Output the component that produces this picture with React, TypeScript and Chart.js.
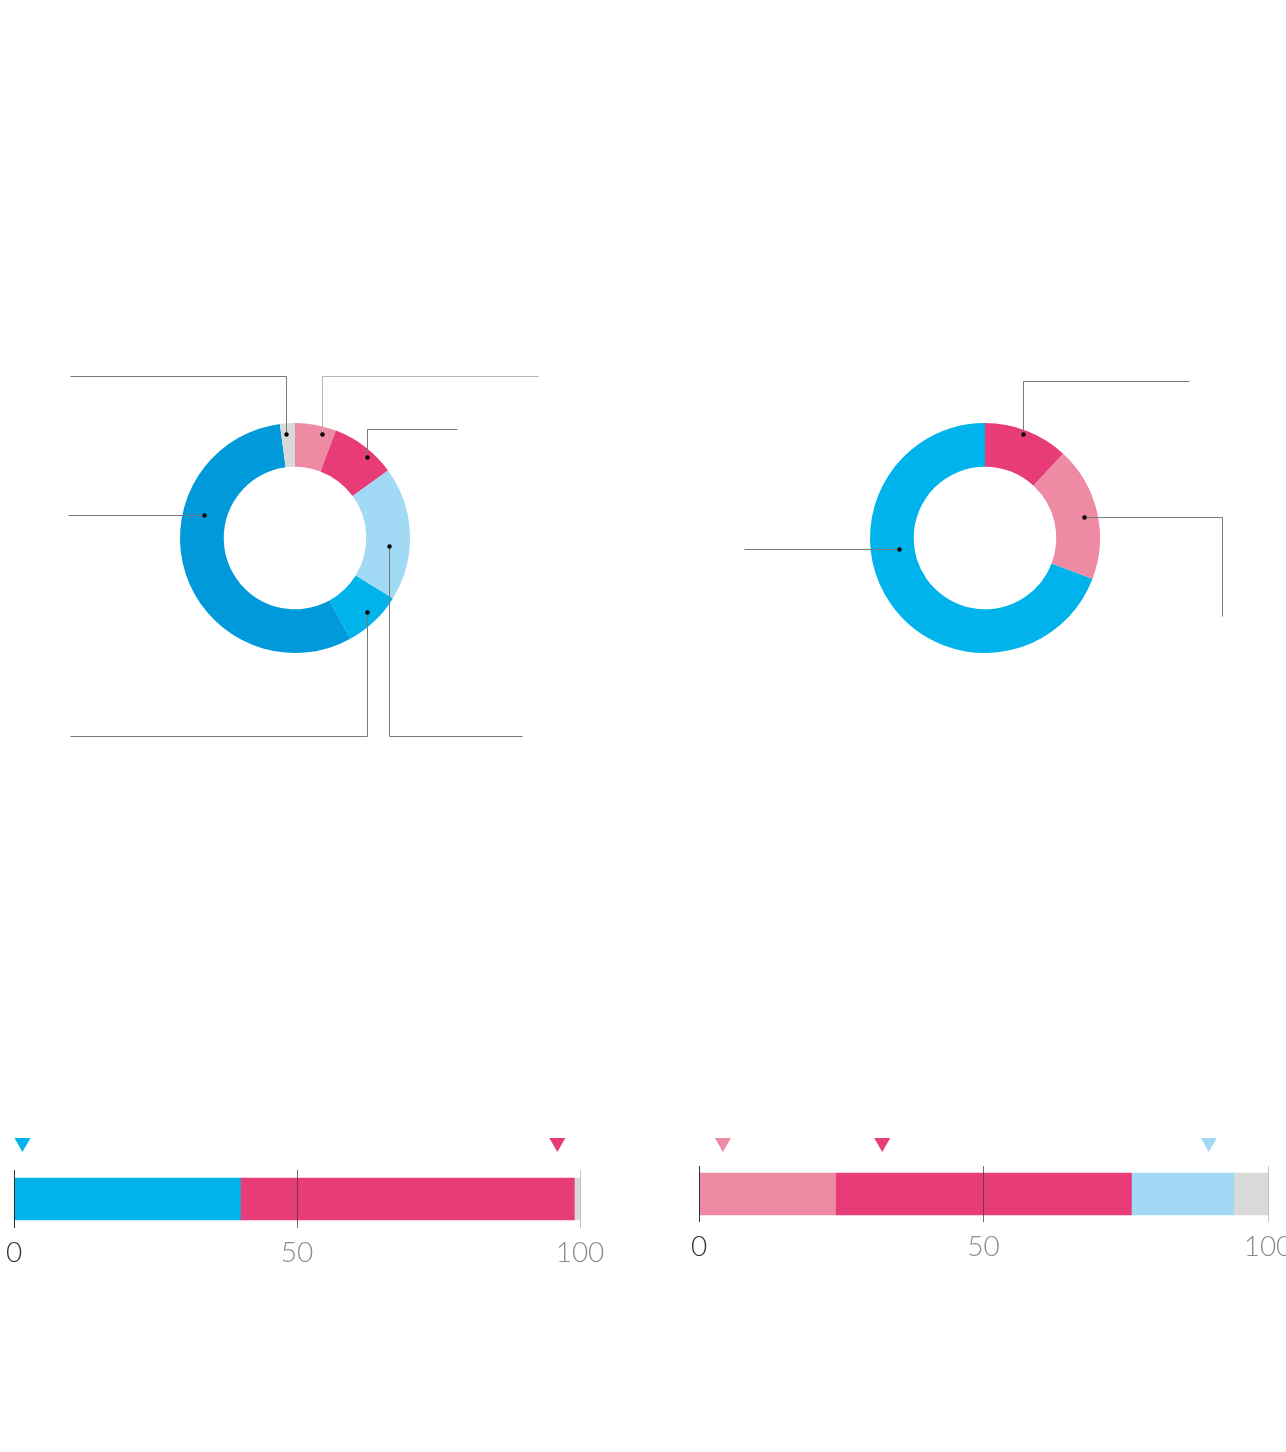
import React, { useEffect, useRef } from 'react';
import { Chart, registerables } from 'chart.js';
Chart.register(...registerables);

// ---- colours ----
const PINK_LIGHT = '#EE8AA4';
const MAGENTA = '#E83C78';
const LIGHT_BLUE = '#A2D9F5';
const CYAN = '#00B4EB';
const BLUE = '#0099D9';
const GRAY = '#D9D9D9';

// ---- data: left doughnut ----
const leftDonutCategories = ['Segment 1', 'Segment 2', 'Segment 3', 'Segment 4', 'Segment 5', 'Segment 6'];
const leftDonutValues = [5.8, 9.2, 18.8, 8.2, 55.9, 2.1];
const leftDonutColors = [PINK_LIGHT, MAGENTA, LIGHT_BLUE, CYAN, BLUE, GRAY];

// ---- data: right doughnut ----
const rightDonutCategories = ['Segment 1', 'Segment 2', 'Segment 3'];
const rightDonutValues = [11.9, 18.9, 69.2];
const rightDonutColors = [MAGENTA, PINK_LIGHT, CYAN];

// ---- data: left bar ----
const leftBarValues = [40, 59, 1];
const leftBarColors = [CYAN, MAGENTA, GRAY];
const leftBarMarkers = [1.5, 96];
const leftBarMarkerColors = [CYAN, MAGENTA];

// ---- data: right bar ----
const rightBarValues = [24, 52, 18, 6];
const rightBarColors = [PINK_LIGHT, MAGENTA, LIGHT_BLUE, GRAY];
const rightBarMarkers = [4.2, 32.2, 89.6];
const rightBarMarkerColors = [PINK_LIGHT, MAGENTA, LIGHT_BLUE];

// ---- axis ticks ----
const barTickValues = [0, 50, 100];

// ---- leader lines (annotation routing, relative to doughnut centre) ----
type Step = ['v' | 'h', number];
interface Leader { index: number; t: number; rf: number; path: Step[]; color?: string }

const leftLeaders: Leader[] = [
  { index: 5, t: 0.35, rf: 0.76, path: [['v', -162], ['h', -225]] },
  { index: 0, t: 0.7, rf: 0.82, path: [['v', -162], ['h', 243]], color: '#b5b5b5' },
  { index: 1, t: 0.63, rf: 0.84, path: [['v', -109], ['h', 162]] },
  { index: 4, t: 0.66, rf: 0.51, path: [['h', -227]] },
  { index: 2, t: 0.6, rf: 0.53, path: [['v', 198], ['h', 227]] },
  { index: 3, t: 0.48, rf: 0.73, path: [['v', 198], ['h', -225]] },
];
const rightLeaders: Leader[] = [
  { index: 0, t: 0.47, rf: 0.9, path: [['v', -157], ['h', 204]] },
  { index: 1, t: 0.52, rf: 0.69, path: [['h', 237], ['v', 78]] },
  { index: 2, t: 0.61, rf: 0.35, path: [['h', -241]] },
];

const leaderPlugin = (leaders: Leader[]) => ({
  id: 'leaders',
  afterDatasetsDraw(chart: any) {
    const ctx = chart.ctx;
    const meta = chart.getDatasetMeta(0);
    leaders.forEach((l) => {
      const arc = meta.data[l.index];
      if (!arc) return;
      const p = arc.getProps(['x', 'y', 'startAngle', 'endAngle', 'innerRadius', 'outerRadius'], true);
      const a = p.startAngle + l.t * (p.endAngle - p.startAngle);
      const r = p.innerRadius + l.rf * (p.outerRadius - p.innerRadius);
      const x = Math.round(p.x + r * Math.cos(a)) + 0.5;
      const y = Math.round(p.y + r * Math.sin(a)) + 0.5;
      ctx.save();
      ctx.strokeStyle = l.color || '#7a7a7a';
      ctx.lineWidth = 1;
      ctx.beginPath();
      ctx.moveTo(x, y);
      let cx = x;
      let cy = y;
      l.path.forEach(([dir, off]) => {
        if (dir === 'v') cy = Math.round(p.y + off) + 0.5;
        else cx = Math.round(p.x + off) + 0.5;
        ctx.lineTo(cx, cy);
      });
      ctx.stroke();
      ctx.fillStyle = '#000';
      ctx.beginPath();
      ctx.arc(x, y, 2.2, 0, Math.PI * 2);
      ctx.fill();
      ctx.restore();
    });
  },
});

function Donut(props: {
  left: number; top: number; width: number; height: number;
  padding: { left: number; right: number; top: number; bottom: number };
  labels: string[]; values: number[]; colors: string[]; leaders: Leader[];
}) {
  const ref = useRef<HTMLCanvasElement>(null);
  useEffect(() => {
    const chart = new Chart(ref.current!, {
      type: 'doughnut',
      data: {
        labels: props.labels,
        datasets: [{ data: props.values, backgroundColor: props.colors, borderWidth: 0, hoverOffset: 0 }],
      },
      options: {
        responsive: false,
        animation: false,
        cutout: '62%',
        layout: { padding: props.padding },
        plugins: { legend: { display: false }, tooltip: { enabled: false } },
      },
      plugins: [leaderPlugin(props.leaders)],
    });
    return () => chart.destroy();
  }, []);
  return (
    <canvas
      ref={ref}
      width={props.width}
      height={props.height}
      style={{ position: 'absolute', left: props.left, top: props.top, width: props.width, height: props.height }}
    />
  );
}

const markerPlugin = (values: number[], colors: string[], gap: number) => ({
  id: 'markers',
  afterDatasetsDraw(chart: any) {
    const ctx = chart.ctx;
    const xs = chart.scales.x;
    const top = chart.chartArea.top - gap;
    values.forEach((v, i) => {
      const x = xs.getPixelForValue(v);
      ctx.save();
      ctx.fillStyle = colors[i];
      ctx.beginPath();
      ctx.moveTo(x - 8, top);
      ctx.lineTo(x + 8, top);
      ctx.lineTo(x, top + 14);
      ctx.closePath();
      ctx.fill();
      ctx.restore();
    });
  },
});

function StackBar(props: {
  left: number; top: number; width: number; height: number;
  padding: { left: number; right: number; top: number; bottom: number };
  axisHeight: number; values: number[]; colors: string[];
  markers: number[]; markerColors: string[]; markerGap: number;
}) {
  const ref = useRef<HTMLCanvasElement>(null);
  useEffect(() => {
    const chart = new Chart(ref.current!, {
      type: 'bar',
      data: {
        labels: [''],
        datasets: props.values.map((v, i) => ({
          data: [v],
          backgroundColor: props.colors[i],
          borderWidth: 0,
          barThickness: 42,
        })),
      },
      options: {
        indexAxis: 'y',
        responsive: false,
        animation: false,
        layout: { padding: props.padding },
        plugins: { legend: { display: false }, tooltip: { enabled: false } },
        scales: {
          x: {
            type: 'linear',
            min: barTickValues[0],
            max: barTickValues[barTickValues.length - 1],
            stacked: true,
            position: 'bottom',
            border: { display: false },
            afterBuildTicks: (s: any) => { s.ticks = barTickValues.map((v) => ({ value: v })); },
            afterFit: (s: any) => { s.height = props.axisHeight; },
            grid: {
              z: 1,
              drawTicks: false,
              lineWidth: 1,
              color: (c: any) => (c.tick && c.tick.value === 0 ? '#333333' : c.tick && c.tick.value === 100 ? '#c4c4c4' : 'rgba(60,60,60,0.75)'),
            },
            ticks: {
              padding: 8,
              color: (c: any) => (c.tick && c.tick.value === 0 ? '#333333' : '#8c8c8c'),
              font: { family: 'Lato', size: 28, weight: '300' },
            },
          },
          y: { type: 'category', stacked: true, display: false },
        },
      } as any,
      plugins: [markerPlugin(props.markers, props.markerColors, props.markerGap)],
    });
    return () => chart.destroy();
  }, []);
  return (
    <canvas
      ref={ref}
      width={props.width}
      height={props.height}
      style={{ position: 'absolute', left: props.left, top: props.top, width: props.width, height: props.height }}
    />
  );
}

export default function App() {
  return (
    <div style={{ position: 'absolute', left: 0, top: 0, width: 1286, height: 1452, overflow: 'hidden', background: '#ffffff' }}>
      <Donut
        left={0} top={300} width={643} height={500}
        padding={{ left: 180, right: 233, top: 123, bottom: 147 }}
        labels={leftDonutCategories} values={leftDonutValues} colors={leftDonutColors} leaders={leftLeaders}
      />
      <Donut
        left={643} top={300} width={643} height={500}
        padding={{ left: 227, right: 186, top: 123, bottom: 147 }}
        labels={rightDonutCategories} values={rightDonutValues} colors={rightDonutColors} leaders={rightLeaders}
      />
      <StackBar
        left={-6} top={1110} width={646} height={180}
        padding={{ left: 20, right: 60, top: 60, bottom: 0 }}
        axisHeight={62}
        values={leftBarValues} colors={leftBarColors}
        markers={leftBarMarkers} markerColors={leftBarMarkerColors} markerGap={32}
      />
      <StackBar
        left={643} top={1106} width={700} height={180}
        padding={{ left: 56, right: 75, top: 60, bottom: 0 }}
        axisHeight={64}
        values={rightBarValues} colors={rightBarColors}
        markers={rightBarMarkers} markerColors={rightBarMarkerColors} markerGap={28}
      />
    </div>
  );
}
